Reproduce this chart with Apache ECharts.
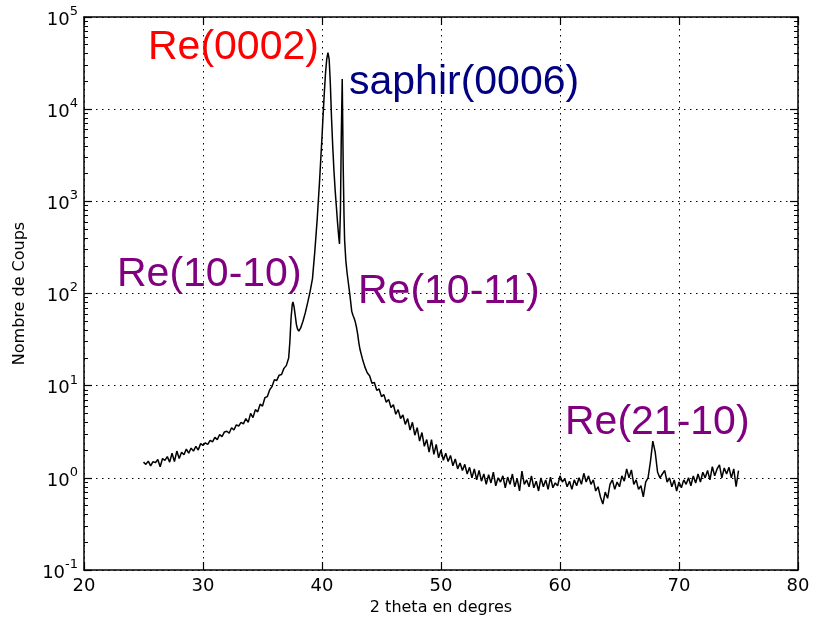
<!DOCTYPE html>
<html><head><meta charset="utf-8">
<script src="https://cdn.jsdelivr.net/npm/echarts@6/dist/echarts.min.js"></script>
<style>html,body{margin:0;padding:0;background:#fff}#c{width:813px;height:624px}</style>
</head><body><div id="c"></div>
<script>
// 2-theta positions (degrees)
const theta = [
25.0,25.2,25.4,25.6,25.8,26.0,26.2,26.4,26.6,26.8,
27.0,27.2,27.4,27.6,27.8,28.0,28.2,28.4,28.6,28.8,
29.0,29.2,29.4,29.6,29.8,30.0,30.2,30.4,30.6,30.8,
31.0,31.2,31.4,31.6,31.8,32.0,32.2,32.4,32.6,32.8,
33.0,33.2,33.4,33.6,33.8,34.0,34.2,34.4,34.6,34.8,
35.0,35.2,35.4,35.6,35.8,36.0,36.2,36.4,36.6,36.8,
37.0,37.2,37.3,37.4,37.5,37.56,37.65,37.75,37.85,37.95,
38.05,38.2,38.4,38.6,38.8,39.0,39.2,39.4,39.6,39.8,
40.0,40.1,40.2,40.3,40.4,40.5,40.6,40.7,40.8,40.9,
41.0,41.1,41.2,41.3,41.4,41.47,41.55,41.62,41.7,41.78,
41.85,41.9,42.0,42.1,42.2,42.35,42.5,42.6,42.7,42.8,
42.9,43.0,43.1,43.2,43.4,43.6,43.8,44.0,44.2,44.4,
44.6,44.8,45.0,45.2,45.4,45.6,45.8,46.0,46.2,46.4,
46.6,46.8,47.0,47.2,47.4,47.6,47.8,48.0,48.2,48.4,
48.6,48.8,49.0,49.2,49.4,49.6,49.8,50.0,50.2,50.4,
50.6,50.8,51.0,51.2,51.4,51.6,51.8,52.0,52.2,52.4,
52.6,52.8,53.0,53.2,53.4,53.6,53.8,54.0,54.2,54.4,
54.6,54.8,55.0,55.2,55.4,55.6,55.8,56.0,56.2,56.4,
56.6,56.8,57.0,57.2,57.4,57.6,57.8,58.0,58.2,58.4,
58.6,58.8,59.0,59.2,59.4,59.6,59.8,60.0,60.2,60.4,
60.6,60.8,61.0,61.2,61.4,61.6,61.8,62.0,62.2,62.4,
62.6,62.8,63.0,63.2,63.4,63.6,63.8,64.0,64.2,64.4,
64.6,64.8,65.0,65.2,65.4,65.6,65.8,66.0,66.2,66.4,
66.6,66.8,67.0,67.2,67.4,67.6,67.8,68.0,68.2,68.4,
68.6,68.8,69.0,69.2,69.4,69.6,69.8,70.0,70.2,70.4,
70.6,70.8,71.0,71.2,71.4,71.6,71.8,72.0,72.2,72.4,
72.6,72.8,73.0,73.2,73.4,73.6,73.8,74.0,74.2,74.4,
74.6,74.8,75.0
];
// counts (log scale)
const counts = [
1.48,1.40,1.52,1.35,1.50,1.46,1.58,1.32,1.62,1.55,
1.70,1.48,1.85,1.50,1.95,1.62,1.90,1.78,2.05,1.85,
2.10,1.95,2.20,2.00,2.35,2.25,2.40,2.30,2.55,2.45,
2.75,2.60,2.95,2.80,3.15,3.20,3.05,3.50,3.30,3.75,
3.65,4.00,3.85,4.40,4.00,5.00,4.50,5.50,5.20,6.30,
6.00,7.40,7.60,9.00,9.80,11.6,11.4,13.0,13.2,15.4,
16.5,20,30,54,76,81,72,58,46,41,
39,42,50,62,80,105,145,290,650,1700,
5000,9000,15500,25000,35000,41000,35000,19000,8000,4000,
2200,1350,900,600,420,345,800,5000,21300,2500,
700,380,230,170,135,95,64,58,54,49,
43,36,29,24.5,19.5,16,13.8,12.8,10.6,10.8,
8.9,9.2,7.6,8.0,6.6,7.1,5.8,6.2,4.9,5.5,
4.4,4.8,3.8,4.4,3.3,4.0,2.9,3.5,2.5,3.1,
2.2,2.6,1.9,2.6,1.8,2.3,1.65,2.0,1.55,1.85,
1.5,1.75,1.35,1.6,1.25,1.45,1.2,1.4,1.1,1.3,
1.0,1.25,0.95,1.2,0.92,1.1,0.85,1.08,0.88,1.15,
0.82,1.0,0.9,1.05,0.78,1.02,0.85,1.1,0.8,0.98,
0.72,1.18,0.85,0.95,0.8,1.05,0.78,0.92,0.72,1.0,
0.8,0.95,0.75,1.02,0.78,0.88,0.82,1.05,0.9,0.98,
0.8,0.92,0.75,0.95,0.82,1.0,0.85,1.12,0.9,1.05,
0.85,0.95,0.72,0.8,0.62,0.52,0.7,0.6,0.85,0.95,
0.75,0.9,0.8,1.05,0.92,1.25,1.0,1.22,0.85,0.95,
0.75,0.82,0.62,0.9,1.0,1.5,2.5,1.9,1.15,1.0,
1.1,1.2,0.9,1.0,0.8,0.95,0.72,0.9,0.78,0.95,
0.85,1.0,0.82,1.05,0.88,1.1,0.9,1.15,1.0,1.2,
0.95,1.32,1.05,1.25,1.38,1.0,1.28,1.1,1.3,1.0,
1.25,0.8,1.2
];
const xTicks = [20, 30, 40, 50, 60, 70, 80];
const yTickExponents = [-1, 0, 1, 2, 3, 4, 5];
const peakLabels = ['Re(0002)', 'saphir(0006)', 'Re(10-10)', 'Re(10-11)', 'Re(21-10)'];

const yMajor = yTickExponents.map(e => Math.pow(10, e));
const yMinor = [];
for (let e = -1; e < 5; e++) for (let m = 2; m <= 9; m++) yMinor.push(m * Math.pow(10, e));

const chart = echarts.init(document.getElementById('c'), null, {renderer: 'canvas'});
const tickFont = 'DejaVu Sans';
const axisLineStyle = {color: '#000', width: 1.5};
const gridDash = {color: '#000', width: 1, type: [1.5, 4.5]};

const baseY = {type: 'log', logBase: 10, min: 0.1, max: 100000, splitNumber: 6};
const yLabelFmt = v => {
  const e = Math.round(Math.log10(v));
  const i = yTickExponents.indexOf(e);
  return '{b|10}{s|' + (i >= 0 ? yTickExponents[i] : e) + '}';
};
const annFont = '41px "Liberation Sans"';

const option = {
  animation: false,
  backgroundColor: '#fff',
  grid: {left: 84, right: 15, top: 17, bottom: 54, containLabel: false},
  xAxis: [
    {type: 'value', min: xTicks[0], max: xTicks[xTicks.length - 1], interval: 10, position: 'bottom',
     name: '2 theta en degres', nameLocation: 'middle', nameGap: 28,
     nameTextStyle: {fontFamily: tickFont, fontSize: 16, color: '#000', verticalAlign: 'top'},
     axisLine: {show: true, lineStyle: axisLineStyle},
     axisTick: {show: true, inside: true, length: 8, lineStyle: {color: '#000', width: 1.2}},
     axisLabel: {fontFamily: tickFont, fontSize: 18, color: '#000', margin: 7},
     splitLine: {show: true, lineStyle: gridDash}},
    {type: 'value', min: xTicks[0], max: xTicks[xTicks.length - 1], interval: 10, position: 'top',
     axisLine: {show: true, lineStyle: axisLineStyle},
     axisTick: {show: true, inside: true, length: 8, lineStyle: {color: '#000', width: 1.2}},
     axisLabel: {show: false}, splitLine: {show: false}}
  ],
  yAxis: [
    Object.assign({}, baseY, {position: 'left',
     name: 'Nombre de Coups', nameLocation: 'middle', nameGap: 56, nameRotate: 90,
     nameTextStyle: {fontFamily: tickFont, fontSize: 16, color: '#000'},
     axisLine: {show: true, lineStyle: axisLineStyle},
     axisTick: {show: true, inside: true, length: 8, lineStyle: {color: '#000', width: 1.2}, customValues: yMajor},
     axisLabel: {customValues: yMajor, formatter: yLabelFmt, margin: 6,
       rich: {b: {fontFamily: tickFont, fontSize: 18, color: '#000', lineHeight: 24, verticalAlign: 'bottom'},
              s: {fontFamily: tickFont, fontSize: 13, color: '#000', verticalAlign: 'top', lineHeight: 24}}},
     splitLine: {show: true, lineStyle: gridDash}}),
    Object.assign({}, baseY, {position: 'right',
     axisLine: {show: true, lineStyle: axisLineStyle},
     axisTick: {show: true, inside: true, length: 8, lineStyle: {color: '#000', width: 1.2}, customValues: yMajor},
     axisLabel: {show: false}, splitLine: {show: false}}),
    Object.assign({}, baseY, {position: 'left', offset: 0,
     axisLine: {show: false},
     axisTick: {show: true, inside: true, length: 4, lineStyle: {color: '#000', width: 1}, customValues: yMinor},
     axisLabel: {show: false}, splitLine: {show: false}}),
    Object.assign({}, baseY, {position: 'right', offset: 0,
     axisLine: {show: false},
     axisTick: {show: true, inside: true, length: 4, lineStyle: {color: '#000', width: 1}, customValues: yMinor},
     axisLabel: {show: false}, splitLine: {show: false}})
  ],
  series: [{
    type: 'line', xAxisIndex: 0, yAxisIndex: 0, showSymbol: false, symbol: 'none',
    lineStyle: {color: '#000', width: 1.5}, smooth: false,
    data: theta.map((t, i) => [t, counts[i]])
  }],
  graphic: [
    {type: 'text', z: 100, left: 148, top: 27, style: {text: peakLabels[0], fill: '#ff0000', font: annFont}},
    {type: 'text', z: 100, left: 349, top: 62, style: {text: peakLabels[1], fill: '#000080', font: annFont}},
    {type: 'text', z: 100, left: 117, top: 254, style: {text: peakLabels[2], fill: '#800080', font: annFont}},
    {type: 'text', z: 100, left: 358, top: 271, style: {text: peakLabels[3], fill: '#800080', font: annFont}},
    {type: 'text', z: 100, left: 565, top: 402, style: {text: peakLabels[4], fill: '#800080', font: annFont}}
  ]
};
chart.setOption(option);
</script></body></html>
